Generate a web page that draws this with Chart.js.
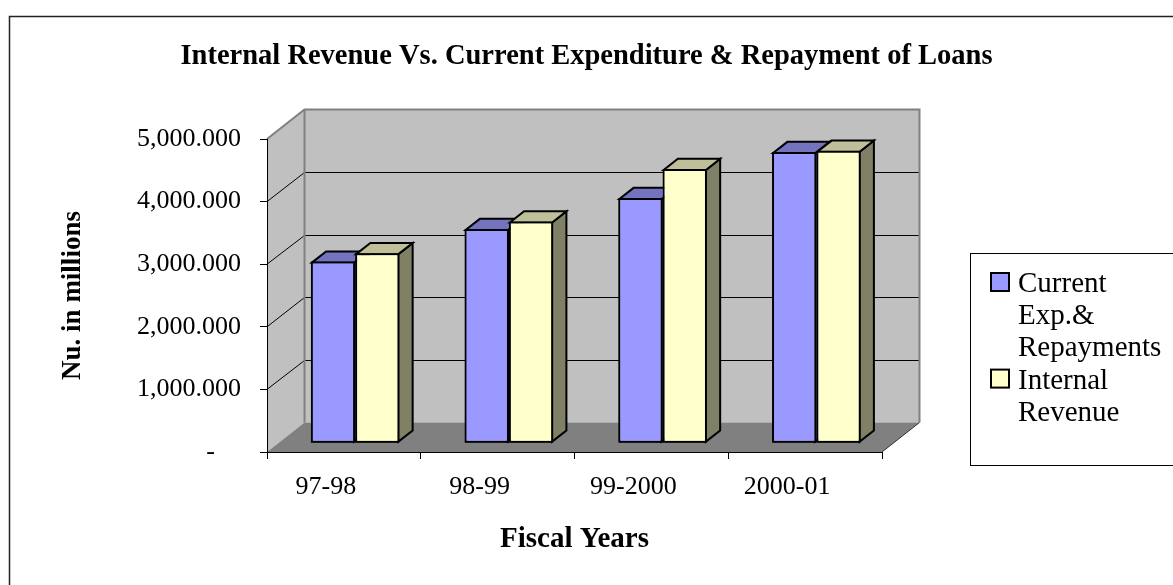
<!DOCTYPE html>
<html>
<head>
<meta charset="utf-8">
<script src="https://cdn.jsdelivr.net/npm/chart.js@4.4.0/dist/chart.umd.min.js"></script>
<style>
    html, body { margin: 0; padding: 0; background: #fff; }
    #wrap { width: 1173px; height: 585px; }
</style>
</head>
<body>
<div id="wrap"><canvas id="revenueChart"></canvas></div>
<script>
// 数据
const fiscalYears = ['97-98', '98-99', '99-2000', '2000-01'];
const currentExpRepayments = [2900, 3420, 3915, 4650];
const internalRevenue = [3035, 3540, 4380, 4670];
const seriesNames = ['Current Exp.& Repayments', 'Internal Revenue'];

const FONT = "'Liberation Serif', 'Times New Roman', serif";
// 三维墙的深度偏移
const WALL = { x: 37.5, y: -29.5 };
const BAR_FRONT = 0.3;
const BAR_BACK = 0.68;

function formatTick(v) {
    if (v === 0) return '-    ';
    return v.toFixed(3).replace(/\B(?=(\d{3})+(?!\d))/, ',');
}

// 背景墙、地板和网格线
const wallPlugin = {
    id: 'wall3d',
    beforeDraw(chart) {
        const ctx = chart.ctx;
        const { left, right, top, bottom } = chart.chartArea;
        const yScale = chart.scales.y;
        const bl = left + WALL.x, br = right + WALL.x;
        const bt = top + WALL.y, bb = bottom + WALL.y;
        ctx.save();
        ctx.fillStyle = '#fff';
        ctx.fillRect(0, 0, chart.width, chart.height);

        // 外框
        ctx.strokeStyle = '#222';
        ctx.lineWidth = 1.5;
        ctx.strokeRect(9.5, 16.5, chart.width + 40, chart.height + 40);

        // 后墙和左墙
        ctx.fillStyle = '#c0c0c0';
        ctx.fillRect(bl, bt, br - bl, bb - bt);
        ctx.beginPath();
        ctx.moveTo(left, top);
        ctx.lineTo(bl, bt);
        ctx.lineTo(bl, bb);
        ctx.lineTo(left, bottom);
        ctx.closePath();
        ctx.fill();

        // 地板
        ctx.fillStyle = '#808080';
        ctx.beginPath();
        ctx.moveTo(left, bottom);
        ctx.lineTo(right, bottom);
        ctx.lineTo(br, bb);
        ctx.lineTo(bl, bb);
        ctx.closePath();
        ctx.fill();

        // 网格线
        ctx.strokeStyle = '#000';
        ctx.lineWidth = 1;
        yScale.ticks.forEach(t => {
            if (t.value <= yScale.min || t.value >= yScale.max) return;
            const py = yScale.getPixelForValue(t.value);
            const backY = Math.round(py + WALL.y) + 0.5;
            ctx.beginPath();
            ctx.moveTo(left, py);
            ctx.lineTo(bl, backY);
            ctx.lineTo(br, backY);
            ctx.stroke();
        });

        // 墙的边线
        ctx.strokeStyle = '#808080';
        ctx.lineWidth = 2;
        ctx.beginPath();
        ctx.moveTo(left, top);
        ctx.lineTo(bl, bt);
        ctx.lineTo(br, bt);
        ctx.lineTo(br, bb);
        ctx.stroke();
        ctx.beginPath();
        ctx.moveTo(bl, bt);
        ctx.lineTo(bl, bb);
        ctx.stroke();
        ctx.strokeStyle = '#333';
        ctx.lineWidth = 1;
        ctx.beginPath();
        ctx.moveTo(right, bottom);
        ctx.lineTo(br, bb);
        ctx.stroke();
        ctx.restore();
    },
    beforeDatasetsDraw(chart) {
        // 柱子放在地板中间的深度
        chart.ctx.save();
        chart.ctx.translate(WALL.x * BAR_FRONT, WALL.y * BAR_FRONT);
    },
    afterDatasetsDraw(chart) {
        const ctx = chart.ctx;
        const dx = WALL.x * (BAR_BACK - BAR_FRONT);
        const dy = WALL.y * (BAR_BACK - BAR_FRONT);
        ctx.lineWidth = 2;
        ctx.strokeStyle = '#000';
        ctx.lineJoin = 'miter';
        for (let i = 0; i < chart.data.labels.length; i++) {
            chart.data.datasets.forEach((ds, d) => {
                const bar = chart.getDatasetMeta(d).data[i];
                const { x, y, base, width } = bar.getProps(['x', 'y', 'base', 'width'], true);
                const l = x - width / 2 + 1, r = x + width / 2 - 1;
                const t = y + 1, b = base - 1;
                // 侧面
                ctx.fillStyle = ds.sideColor;
                ctx.beginPath();
                ctx.moveTo(r, t);
                ctx.lineTo(r + dx, t + dy);
                ctx.lineTo(r + dx, b + dy);
                ctx.lineTo(r, b);
                ctx.closePath();
                ctx.fill();
                ctx.stroke();
                // 顶面
                ctx.fillStyle = ds.topColor;
                ctx.beginPath();
                ctx.moveTo(l, t);
                ctx.lineTo(l + dx, t + dy);
                ctx.lineTo(r + dx, t + dy);
                ctx.lineTo(r, t);
                ctx.closePath();
                ctx.fill();
                ctx.stroke();
                bar.draw(ctx);
            });
        }
        ctx.restore();
    }
};

function wrapText(ctx, text, maxWidth) {
    const words = text.split(' ');
    const lines = [];
    let line = '';
    words.forEach(w => {
        const test = line ? line + ' ' + w : w;
        if (line && ctx.measureText(test).width > maxWidth) {
            lines.push(line);
            line = w;
        } else {
            line = test;
        }
    });
    if (line) lines.push(line);
    return lines;
}

// 右侧图例
const legendPlugin = {
    id: 'sideLegend',
    afterDraw(chart) {
        const ctx = chart.ctx;
        ctx.save();
        ctx.strokeStyle = '#000';
        ctx.lineWidth = 1;
        ctx.strokeRect(970.5, 253.5, 300, 212);
        ctx.font = '29px ' + FONT;
        ctx.textBaseline = 'alphabetic';
        let baseY = 292;
        chart.data.datasets.forEach(ds => {
            ctx.fillStyle = ds.backgroundColor;
            ctx.fillRect(991, baseY - 19, 18, 18);
            ctx.lineWidth = 2;
            ctx.strokeRect(991, baseY - 19, 18, 18);
            ctx.fillStyle = '#000';
            wrapText(ctx, ds.label, 150).forEach(line => {
                ctx.fillText(line, 1018, baseY);
                baseY += 32.2;
            });
        });
        ctx.restore();
    }
};

const ctx = document.getElementById('revenueChart').getContext('2d');
const revenueChart = new Chart(ctx, {
    type: 'bar',
    data: {
        labels: fiscalYears,
        datasets: [{
            label: seriesNames[0],
            data: currentExpRepayments,
            backgroundColor: '#9999ff',
            topColor: '#7373bf',
            sideColor: '#5c5c99',
            borderColor: '#000',
            borderWidth: 2,
            borderSkipped: false
        }, {
            label: seriesNames[1],
            data: internalRevenue,
            backgroundColor: '#ffffcc',
            topColor: '#bfbf99',
            sideColor: '#808066',
            borderColor: '#000',
            borderWidth: 2,
            borderSkipped: false
        }]
    },
    options: {
        responsive: true,
        maintainAspectRatio: false,
        animation: false,
        categoryPercentage: 0.576,
        barPercentage: 1,
        layout: { padding: 0 },
        plugins: {
            legend: { display: false },
            tooltip: { enabled: false },
            title: {
                display: true,
                text: 'Internal Revenue Vs. Current Expenditure & Repayment of Loans',
                color: '#000',
                font: { family: FONT, size: 28.5, weight: 'bold' },
                padding: { top: 40, bottom: 64.8 }
            }
        },
        scales: {
            x: {
                afterFit(scale) { scale.height = 133; },
                grid: { offset: true, drawOnChartArea: false, drawTicks: true, tickLength: 7, color: '#000' },
                border: { color: '#000', width: 1 },
                ticks: {
                    color: '#000',
                    font: { family: FONT, size: 26 },
                    padding: 13,
                    labelOffset: -18,
                    autoSkip: false,
                    maxRotation: 0
                },
                title: {
                    display: true,
                    text: 'Fiscal Years',
                    color: '#000',
                    font: { family: FONT, size: 29, weight: 'bold' },
                    padding: { top: 0, bottom: 27.6 }
                }
            },
            y: {
                min: 0,
                max: 5000,
                afterFit(scale) { scale.width = 267; },
                grid: { drawOnChartArea: false, drawTicks: true, tickLength: 7, color: '#000' },
                border: { color: '#000', width: 1 },
                ticks: {
                    stepSize: 1000,
                    color: '#000',
                    font: { family: FONT, size: 26 },
                    padding: 19,
                    callback: v => formatTick(v)
                },
                title: {
                    display: true,
                    text: 'Nu. in millions',
                    color: '#000',
                    font: { family: FONT, size: 27, weight: 'bold' },
                    padding: { top: 56.8, bottom: 0 }
                }
            },
            // 右侧留给图例的空白
            legendSpace: {
                position: 'right',
                afterFit(scale) { scale.width = 291; },
                grid: { display: false },
                border: { display: false },
                ticks: { display: false }
            }
        }
    },
    plugins: [wallPlugin, legendPlugin]
});
</script>
</body>
</html>
